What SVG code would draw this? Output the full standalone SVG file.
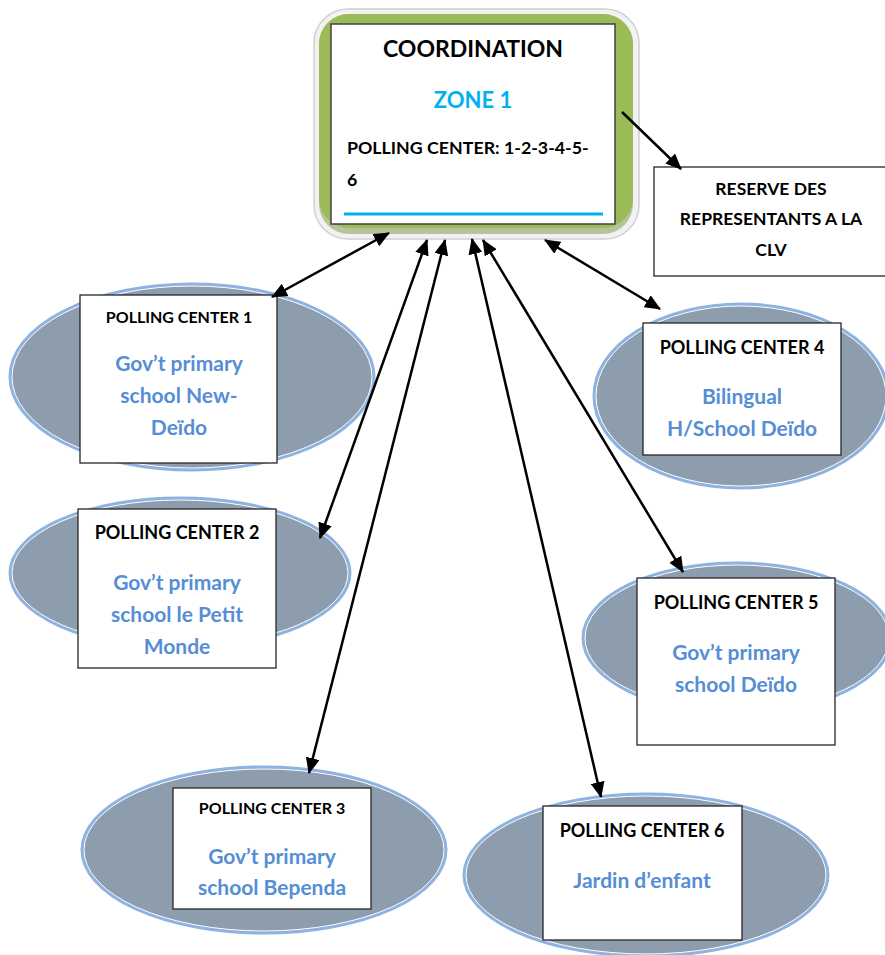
<svg xmlns="http://www.w3.org/2000/svg" width="885" height="955" viewBox="0 0 885 955">
  <defs>
    <marker id="head" markerUnits="userSpaceOnUse" markerWidth="16" markerHeight="14" refX="15" refY="7" orient="auto-start-reverse">
      <path d="M0,0 L16,7 L0,14 Z" fill="#000"/>
    </marker>
  </defs>
  <style>
    text { font-family: Lato, "Open Sans", "Liberation Sans", sans-serif; font-weight: bold; text-anchor: middle; }
    .site { fill: #8E9DAE; stroke: #8DB3E2; stroke-width: 3; }
    .site-inner { fill: none; stroke: #FFFFFF; stroke-width: 1; }
    .card { fill: #FFFFFF; stroke: #262626; stroke-width: 1.3; }
    .head { font-size: 16px; fill: #000; }
    .head-lg { font-size: 18px; fill: #000; }
    .place { font-size: 21px; fill: #558ED5; }
    .link { fill: none; stroke: #000; stroke-width: 2.5; marker-start: url(#head); marker-end: url(#head); }
    .link-one { fill: none; stroke: #000; stroke-width: 2.5; marker-end: url(#head); }
  </style>

  <!-- coordination node -->
  <g id="coordination">
    <rect x="314" y="9" width="325" height="230" rx="34" fill="#F2F2F2" stroke="#D0D0D0" stroke-width="1.5"/>
    <rect x="319" y="14" width="314" height="220" rx="30" fill="#B7C49B"/>
    <rect x="319" y="14" width="314" height="214" rx="30" fill="#9BBB59"/>
    <rect x="331" y="24" width="284" height="200" fill="#FFFFFF" stroke="#404040" stroke-width="1.5"/>
    <text x="473" y="57" style="font-size:23px" fill="#000">COORDINATION</text>
    <text x="473" y="108" style="font-size:22px" fill="#00B0F0">ZONE 1</text>
    <text x="347" y="154" style="font-size:17.8px;text-anchor:start" fill="#000">POLLING CENTER: 1-2-3-4-5-</text>
    <text x="347" y="186" style="font-size:17.8px;text-anchor:start" fill="#000">6</text>
    <line x1="344" y1="214" x2="603" y2="214" stroke="#00B0F0" stroke-width="3"/>
  </g>

  <!-- reserve node -->
  <g id="reserve">
    <rect x="654" y="167" width="235" height="109" fill="#FFFFFF" stroke="#262626" stroke-width="1.3"/>
    <text x="771" y="195" style="font-size:17.5px" fill="#000">RESERVE DES</text>
    <text x="771" y="225" style="font-size:17.5px" fill="#000">REPRESENTANTS A LA</text>
    <text x="771" y="256" style="font-size:17.5px" fill="#000">CLV</text>
  </g>

  <!-- polling center 1 -->
  <g id="pc1">
    <ellipse class="site" cx="192" cy="377" rx="182" ry="93"/>
    <ellipse class="site-inner" cx="192" cy="377" rx="180" ry="91"/>
    <rect class="card" x="80" y="295" width="197" height="168"/>
    <text x="179" y="323" class="head">POLLING CENTER 1</text>
    <text x="179" y="371" class="place">Gov’t primary</text>
    <text x="179" y="403" class="place">school New-</text>
    <text x="179" y="435" class="place">Deïdo</text>
  </g>

  <!-- polling center 2 -->
  <g id="pc2">
    <ellipse class="site" cx="180" cy="573" rx="170" ry="75"/>
    <ellipse class="site-inner" cx="180" cy="573" rx="168" ry="73"/>
    <rect class="card" x="78" y="509" width="198" height="159"/>
    <text x="177" y="539" class="head-lg">POLLING CENTER 2</text>
    <text x="177" y="590" class="place">Gov’t primary</text>
    <text x="177" y="622" class="place">school le Petit</text>
    <text x="177" y="654" class="place">Monde</text>
  </g>

  <!-- polling center 3 -->
  <g id="pc3">
    <ellipse class="site" cx="264" cy="850" rx="182" ry="83"/>
    <ellipse class="site-inner" cx="264" cy="850" rx="180" ry="81"/>
    <rect class="card" x="173" y="788" width="198" height="121"/>
    <text x="272" y="814" class="head">POLLING CENTER 3</text>
    <text x="272" y="864" class="place">Gov’t primary</text>
    <text x="272" y="895" class="place">school Bependa</text>
  </g>

  <!-- polling center 4 -->
  <g id="pc4">
    <ellipse class="site" cx="741" cy="396" rx="147" ry="92"/>
    <ellipse class="site-inner" cx="741" cy="396" rx="145" ry="90"/>
    <rect class="card" x="643" y="323" width="198" height="132"/>
    <text x="742" y="354" class="head-lg">POLLING CENTER 4</text>
    <text x="742" y="404" class="place">Bilingual</text>
    <text x="742" y="436" class="place">H/School Deïdo</text>
  </g>

  <!-- polling center 5 -->
  <g id="pc5">
    <ellipse class="site" cx="737" cy="638" rx="154" ry="75"/>
    <ellipse class="site-inner" cx="737" cy="638" rx="152" ry="73"/>
    <rect class="card" x="637" y="578" width="198" height="167"/>
    <text x="736" y="609" class="head-lg">POLLING CENTER 5</text>
    <text x="736" y="660" class="place">Gov’t primary</text>
    <text x="736" y="692" class="place">school Deïdo</text>
  </g>

  <!-- polling center 6 -->
  <g id="pc6">
    <ellipse class="site" cx="646" cy="875" rx="182" ry="81"/>
    <ellipse class="site-inner" cx="646" cy="875" rx="180" ry="79"/>
    <rect class="card" x="543" y="806" width="199" height="134"/>
    <text x="642" y="837" class="head-lg">POLLING CENTER 6</text>
    <text x="642" y="888" class="place">Jardin d’enfant</text>
  </g>

  <!-- connectors -->
  <g id="connectors">
    <line class="link" x1="272" y1="297" x2="389" y2="233"/>
    <line class="link" x1="320" y1="538" x2="427" y2="240"/>
    <line class="link" x1="309" y1="773" x2="445" y2="240"/>
    <line class="link" x1="601" y1="797" x2="472" y2="239"/>
    <line class="link" x1="683" y1="572" x2="483" y2="240"/>
    <line class="link" x1="660" y1="309" x2="545" y2="240"/>
    <line class="link-one" x1="622" y1="112" x2="681" y2="169"/>
  </g>
</svg>
